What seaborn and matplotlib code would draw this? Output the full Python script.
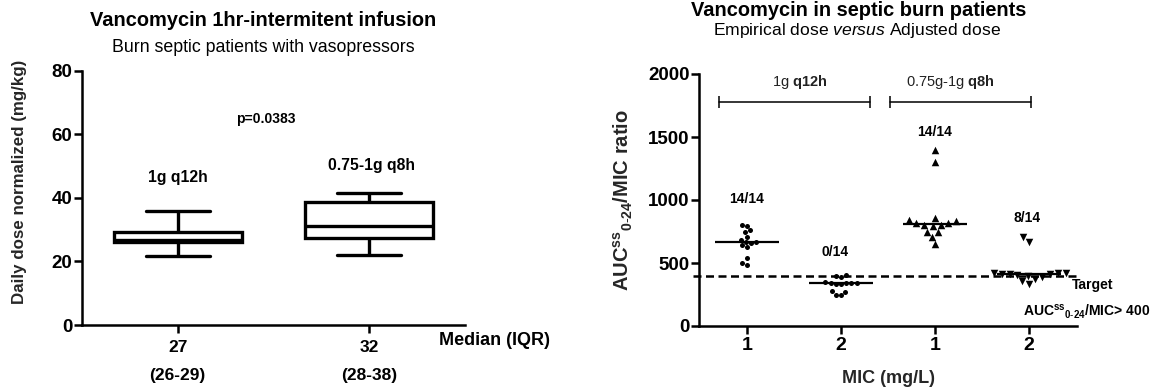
import numpy as np
import pandas as pd
import matplotlib
matplotlib.use("Agg")
import matplotlib.pyplot as plt
import matplotlib.transforms as mtransforms
import seaborn as sns

# ---------------- left panel data ----------------
dose_groups = ["1g q12h", "0.75-1g q8h"]
dose_q12h = [21.8, 26.2, 26.8, 29.4, 36.0]   # min, Q1, median, Q3, max
dose_q8h = [22.0, 27.5, 31.2, 38.6, 41.5]
dose_median_labels = ["27", "32"]
dose_iqr_labels = ["(26-29)", "(28-38)"]
dose_yticks = [0, 20, 40, 60, 80]
p_value_label = "p=0.0383"

# ---------------- right panel data ----------------
mic_groups = ["q12h MIC 1", "q12h MIC 2", "q8h MIC 1", "q8h MIC 2"]
mic_ticklabels = ["1", "2", "1", "2"]
auc_q12h_mic1 = [484, 500, 540, 630, 643, 655, 665, 670, 683, 709, 746, 760, 795, 802]
auc_q12h_mic2 = [246, 250, 270, 275, 330, 335, 338, 340, 342, 345, 350, 388, 400, 405]
auc_q8h_mic1 = [650, 705, 745, 750, 790, 800, 805, 815, 820, 830, 840, 860, 1305, 1400]
auc_q8h_mic2 = [335, 355, 375, 390, 400, 405, 410, 412, 415, 418, 420, 422, 667, 706]
attainment_labels = ["14/14", "0/14", "14/14", "8/14"]
auc_target = 400
auc_yticks = [0, 500, 1000, 1500, 2000]

FAM = "Liberation Sans"
sns.set_style("white")
plt.rcParams.update({
    "font.family": [FAM, "DejaVu Sans"],
    "mathtext.fontset": "custom",
    "mathtext.rm": FAM,
    "mathtext.bf": FAM + ":bold",
    "mathtext.it": FAM + ":italic",
    "mathtext.default": "regular",
    "axes.edgecolor": "black",
    "text.color": "black",
    "xtick.color": "black",
    "ytick.color": "black",
})

W, H = 1166, 391
fig = plt.figure(figsize=(W / 100, H / 100), dpi=100)

# ================= LEFT PANEL =================
ax1 = fig.add_axes([82 / W, 1 - 325 / H, 383 / W, 254.3 / H])
df_dose = pd.DataFrame({
    "group": [dose_groups[0]] * len(dose_q12h) + [dose_groups[1]] * len(dose_q8h),
    "dose": dose_q12h + dose_q8h,
})
sns.boxplot(data=df_dose, x="group", y="dose", order=dose_groups, whis=(0, 100),
            width=0.67, color="white", linecolor="black", linewidth=2.4, ax=ax1)
ax1.set_xlim(-0.5, 1.5)
ax1.set_ylim(0, 80)
sns.despine(ax=ax1)
for s in ("left", "bottom"):
    ax1.spines[s].set_linewidth(1.8)
ax1.tick_params(axis="both", direction="out", length=5.8, width=1.8, left=True, bottom=True)
ax1.tick_params(axis="y", pad=1)
ax1.tick_params(axis="x", pad=5)
ax1.set_yticks(dose_yticks, [str(v) for v in dose_yticks], fontweight="bold", fontsize=13.5)
ax1.set_xticks(range(len(dose_groups)), dose_median_labels, fontweight="bold", fontsize=12.5)
trans1 = mtransforms.blended_transform_factory(ax1.transData, ax1.transAxes)
for i, lab in enumerate(dose_iqr_labels):
    ax1.text(i, -0.20, lab, transform=trans1, ha="center", va="center",
             fontweight="bold", fontsize=12.5, clip_on=False)
ax1.text(1.655, -0.059, "Median (IQR)", transform=trans1, ha="center", va="center",
         fontweight="bold", fontsize=13, clip_on=False)
ax1.set_xlabel("")
ax1.set_ylabel("Daily dose normalized (mg/kg)", fontweight="bold", fontsize=12.2)
ax1.yaxis.set_label_coords(-0.143, 0.562)
ax1.text(0, 46.3, dose_groups[0], ha="center", va="center", fontweight="bold", fontsize=11.3)
ax1.text(1.01, 50.1, dose_groups[1], ha="center", va="center", fontweight="bold", fontsize=11.3)
ax1.text(0.46, 64.9, p_value_label, ha="center", va="center", fontweight="bold", fontsize=10)

fig.text(263 / W, 1 - 20 / H, "Vancomycin 1hr-intermitent infusion", ha="center", va="center",
         fontweight="bold", fontsize=14.4)
fig.text(263 / W, 1 - 47 / H, "Burn septic patients with vasopressors", ha="center", va="center",
         fontsize=12.8)

# ================= RIGHT PANEL =================
ax2 = fig.add_axes([699 / W, 1 - 326 / H, 378 / W, 252 / H])
auc_series = [auc_q12h_mic1, auc_q12h_mic2, auc_q8h_mic1, auc_q8h_mic2]
df_auc = pd.DataFrame({
    "group": sum([[g] * len(v) for g, v in zip(mic_groups, auc_series)], []),
    "auc": sum(auc_series, []),
})
markers = ["o", "o", "^", "v"]
msizes = [3.6, 3.6, 5.4, 5.4]
for g, m, s in zip(mic_groups, markers, msizes):
    sns.swarmplot(data=df_auc[df_auc["group"] == g], x="group", y="auc", order=mic_groups,
                  marker=m, size=s, color="black", linewidth=0, ax=ax2, warn_thresh=1)
for i, g in enumerate(mic_groups):
    med = df_auc.loc[df_auc["group"] == g, "auc"].median()
    ax2.hlines(med, i - 0.34, i + 0.34, color="black", lw=1.6, zorder=4)

ax2.axhline(auc_target, xmin=-0.016, xmax=1.0, color="black", lw=1.8,
            ls=(0, (3.2, 1.8)), clip_on=False, zorder=1)
ax2.set_xlim(-0.51, 3.51)
ax2.set_ylim(0, 2000)
sns.despine(ax=ax2)
for s in ("left", "bottom"):
    ax2.spines[s].set_linewidth(1.8)
ax2.tick_params(axis="both", direction="out", length=5.8, width=1.8, left=True, bottom=True)
ax2.tick_params(axis="y", pad=1)
ax2.tick_params(axis="x", pad=2)
ax2.set_yticks(auc_yticks, [str(v) for v in auc_yticks], fontweight="bold", fontsize=13.5)
ax2.set_xticks(range(len(mic_groups)), mic_ticklabels, fontweight="bold", fontsize=14)
ax2.set_xlabel("MIC (mg/L)", fontweight="bold", fontsize=13)
ax2.xaxis.set_label_coords(0.5, -0.175)
ax2.set_ylabel(r"AUC$^{ss}$$_{0\text{-}24}$/MIC ratio", fontweight="bold", fontsize=14.5)
ax2.yaxis.set_label_coords(-0.17, 0.5)

# dosing brackets
for (x0, x1), lab, xc in [((-0.30, 1.31), r"1g $\mathbf{q12h}$", 0.56),
                          ((1.52, 3.02), r"0.75g-1g $\mathbf{q8h}$", 2.16)]:
    ax2.plot([x0, x1], [1778, 1778], color="black", lw=1.1, clip_on=False)
    ax2.vlines([x0, x1], 1730, 1826, color="black", lw=1.1, clip_on=False)
    ax2.text(xc, 1937, lab, ha="center", va="center", fontsize=10.5, color="#222222")

for (x, y), lab in zip([(0, 1010), (0.94, 587), (2.0, 1540), (2.98, 857)], attainment_labels):
    ax2.text(x, y, lab, ha="center", va="center", fontweight="bold", fontsize=10)

ax2.text(3.46, 326, "Target", ha="left", va="center", fontweight="bold", fontsize=10, clip_on=False)
ax2.text(2.94, 111, r"AUC$^{ss}$$_{0\text{-}24}$/MIC> 400", ha="left", va="center",
         fontweight="bold", fontsize=10, clip_on=False)

fig.text(859 / W, 1 - 11 / H, "Vancomycin in septic burn patients", ha="center", va="center",
         fontweight="bold", fontsize=14.4)
fig.text(857 / W, 1 - 31 / H, r"Empirical dose $\mathit{versus}$ Adjusted dose", ha="center",
         va="center", fontsize=12.6)

fig.savefig("out.png", dpi=100)
